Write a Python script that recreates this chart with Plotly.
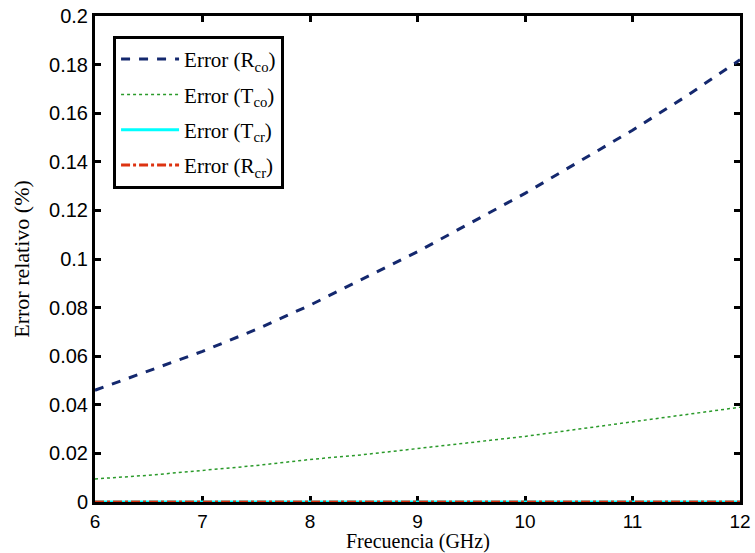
import plotly.graph_objects as go

freq = [6, 6.5, 7, 7.5, 8, 8.5, 9, 9.5, 10, 10.5, 11, 11.5, 12]
err_rco = [0.046, 0.054, 0.062, 0.071, 0.081, 0.092, 0.103, 0.115, 0.127, 0.140, 0.153, 0.167, 0.182]
err_tco = [0.0095, 0.011, 0.013, 0.015, 0.0175, 0.0195, 0.022, 0.0245, 0.027, 0.030, 0.033, 0.036, 0.039]
err_tcr = [0.0] * 13
err_rcr = [0.0] * 13

names = ["Error (R<sub>co</sub>)", "Error (T<sub>co</sub>)", "Error (T<sub>cr</sub>)", "Error (R<sub>cr</sub>)"]

fig = go.Figure()
fig.add_trace(go.Scatter(x=freq, y=err_rco, mode="lines", name=names[0], legendgroup="a",
                         line=dict(color="#14286e", width=3, dash="dash")))
fig.add_trace(go.Scatter(x=freq, y=err_tco, mode="lines", name=names[1], legendgroup="b",
                         line=dict(color="#2a9a2a", width=1.5, dash="dot")))
fig.add_trace(go.Scatter(x=freq, y=err_tcr, mode="lines", name=names[2], legendgroup="c",
                         line=dict(color="#00ffff", width=3, dash="solid")))
fig.add_trace(go.Scatter(x=freq, y=err_rcr, mode="lines", name=names[3], legendgroup="d",
                         line=dict(color="#dd3311", width=3, dash="dashdot")))

axis_common = dict(showline=True, linecolor="black", linewidth=3, mirror="ticks",
                   ticks="inside", ticklen=6, tickwidth=3, tickcolor="black",
                   showgrid=False, zeroline=False, layer="below traces", automargin=False)

fig.update_layout(
    width=755, height=553,
    margin=dict(l=95, r=15, t=16, b=51),
    paper_bgcolor="white", plot_bgcolor="white",
    xaxis=dict(range=[6, 12], tickvals=[6, 7, 8, 9, 10, 11, 12],
               tickfont=dict(family="Liberation Sans", size=19, color="black"),
               **axis_common),
    yaxis=dict(range=[0, 0.2], tickvals=[0, 0.02, 0.04, 0.06, 0.08, 0.1, 0.12, 0.14, 0.16, 0.18, 0.2],
               ticktext=["0", "0.02", "0.04", "0.06", "0.08", "0.1", "0.12", "0.14", "0.16", "0.18", "0.2"],
               tickfont=dict(family="Liberation Sans", size=20, color="black"),
               title=dict(text="Error relativo (%)", standoff=14,
                          font=dict(family="Liberation Serif", size=22, color="black")),
               **axis_common),
    legend=dict(x=0.028, y=0.959, xanchor="left", yanchor="top",
                bgcolor="white", bordercolor="black", borderwidth=3,
                font=dict(family="Liberation Serif", size=21, color="black"),
                tracegroupgap=5, itemwidth=58),
    showlegend=True,
    annotations=[dict(text="Frecuencia (GHz)", x=0.5, y=0, xref="paper", yref="paper",
                      xanchor="center", yanchor="top", yshift=-27, showarrow=False, borderpad=0,
                      font=dict(family="Liberation Serif", size=20, color="black"))],
)

fig.write_html("out.html")
